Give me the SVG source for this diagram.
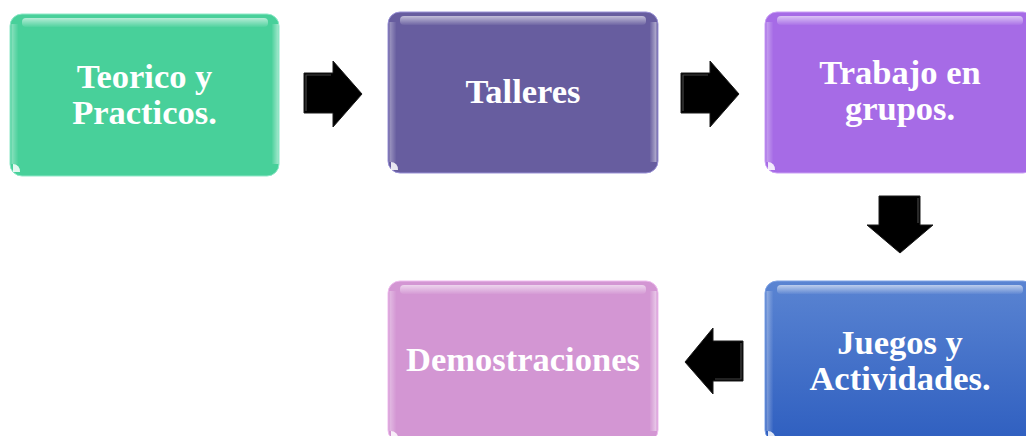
<svg xmlns="http://www.w3.org/2000/svg" width="1026" height="436" viewBox="0 0 1026 436">
<defs>
<style>
.lbl{font-family:"Liberation Serif","Times New Roman",serif;font-weight:bold;font-size:34.5px;fill:#ffffff;text-anchor:middle}
.arrow{fill:#000000;stroke:#1a1a1a;stroke-width:1}
.bevel{fill:none;stroke:#555555;stroke-width:1.2;opacity:0.8}
</style>
<linearGradient id="topHi" x1="0" y1="0" x2="0" y2="1">
<stop offset="0" stop-color="#ffffff" stop-opacity="0.6"/>
<stop offset="1" stop-color="#ffffff" stop-opacity="0.05"/>
</linearGradient>
<linearGradient id="leftHi" x1="0" y1="0" x2="1" y2="0">
<stop offset="0" stop-color="#ffffff" stop-opacity="0.35"/>
<stop offset="1" stop-color="#ffffff" stop-opacity="0"/>
</linearGradient>
<linearGradient id="rightHi" x1="1" y1="0" x2="0" y2="0">
<stop offset="0" stop-color="#ffffff" stop-opacity="0.5"/>
<stop offset="1" stop-color="#ffffff" stop-opacity="0"/>
</linearGradient>
<linearGradient id="blueFill" x1="0" y1="0" x2="0" y2="1">
<stop offset="0" stop-color="#5a84d2"/>
<stop offset="1" stop-color="#2f5fc0"/>
</linearGradient>
<g id="gloss">
<rect x="12" y="4" width="246" height="9" rx="4" fill="url(#topHi)"/>
<rect x="1.5" y="10" width="7" height="140" fill="url(#leftHi)"/>
<rect x="261.5" y="10" width="7" height="140" fill="url(#rightHi)"/>
<path d="M3,150 L3,158 L10,158 A7,7 0 0 0 3,150 Z" fill="#ffffff" opacity="0.85"/>
</g>
</defs>

<g id="node-teorico" transform="translate(10,14)">
<rect x="0" y="0" width="269" height="162" rx="12" fill="#48d09a" stroke="#8fe8c8" stroke-width="1"/>
<use href="#gloss"/>
<text class="lbl" x="134.5" y="74">Teorico y</text>
<text class="lbl" x="134.5" y="110">Practicos.</text>
</g>

<g id="node-talleres" transform="translate(388,12)">
<rect x="0" y="0" width="270" height="161" rx="12" fill="#675d9f" stroke="#9a92d6" stroke-width="1"/>
<use href="#gloss"/>
<text class="lbl" x="135" y="91">Talleres</text>
</g>

<g id="node-trabajo" transform="translate(765,12)">
<rect x="0" y="0" width="270" height="161" rx="12" fill="#a66be6" stroke="#caa0f5" stroke-width="1"/>
<use href="#gloss"/>
<text class="lbl" x="135" y="72">Trabajo en</text>
<text class="lbl" x="135" y="108">grupos.</text>
</g>

<g id="node-juegos" transform="translate(765,281)">
<rect x="0" y="0" width="270" height="161" rx="12" fill="url(#blueFill)" stroke="#7fa2e4" stroke-width="1"/>
<use href="#gloss"/>
<text class="lbl" x="135" y="73">Juegos y</text>
<text class="lbl" x="135" y="109">Actividades.</text>
</g>

<g id="node-demostraciones" transform="translate(388,281)">
<rect x="0" y="0" width="270" height="161" rx="12" fill="#d396d3" stroke="#eebcee" stroke-width="1"/>
<use href="#gloss"/>
<text class="lbl" x="135" y="90">Demostraciones</text>
</g>

<g id="connectors">
<g id="arrow-1">
<polygon class="arrow" points="304,73 333,73 333,61 362,94 333,127 333,113 304,113"/>
<polyline class="bevel" points="306,111 306,75 331,75"/>
</g>
<g id="arrow-2">
<polygon class="arrow" points="681,73 710,73 710,61 739,94 710,127 710,113 681,113"/>
<polyline class="bevel" points="683,111 683,75 708,75"/>
</g>
<g id="arrow-3">
<polygon class="arrow" points="879,196 920,196 920,225 933,225 900,253 867,225 879,225"/>
<polyline class="bevel" points="918,198 918,223"/>
</g>
<g id="arrow-4">
<polygon class="arrow" points="743,341 713,341 713,328 685,362 713,394 713,381 743,381"/>
<polyline class="bevel" points="715,379 741,379 741,343"/>
</g>
</g>
</svg>
